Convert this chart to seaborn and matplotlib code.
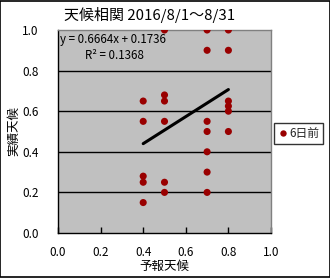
import matplotlib
matplotlib.use("Agg")
import matplotlib.pyplot as plt
import seaborn as sns
import numpy as np
import pandas as pd

# Data
forecast = [0.4, 0.4, 0.4, 0.4, 0.4,
            0.5, 0.5, 0.5, 0.5, 0.5, 0.5,
            0.7, 0.7, 0.7, 0.7, 0.7, 0.7, 0.7,
            0.8, 0.8, 0.8, 0.8, 0.8, 0.8]
actual = [0.65, 0.55, 0.28, 0.25, 0.15,
          1.0, 0.68, 0.65, 0.55, 0.25, 0.20,
          1.0, 0.9, 0.55, 0.50, 0.40, 0.30, 0.20,
          1.0, 0.9, 0.65, 0.625, 0.60, 0.50]
series_name = "6日前"
slope = 0.6664
intercept = 0.1736
r2 = 0.1368
title = "天候相関 2016/8/1～8/31"
xlabel = "予報天候"
ylabel = "実績天候"
ticks = [0.0, 0.2, 0.4, 0.6, 0.8, 1.0]

df = pd.DataFrame({"予報天候": forecast, "実績天候": actual, "系列": series_name})

sns.set_theme(style="white")
plt.rcParams["font.family"] = ["Noto Sans CJK JP", "DejaVu Sans"]

fig = plt.figure(figsize=(3.30, 2.78), dpi=100)
ax = fig.add_axes([58 / 330, 1 - 233 / 278, (271 - 58) / 330, (233 - 30) / 278])
ax.set_facecolor("#C0C0C0")

for yv in ticks[1:-1]:
    ax.axhline(yv, color="black", lw=1.0, zorder=1)

sns.scatterplot(data=df, x="予報天候", y="実績天候", hue="系列",
                palette=["#990000"], s=26, edgecolor="none", ax=ax, zorder=3)

xs = np.array([min(forecast), max(forecast)])
ax.plot(xs, slope * xs + intercept, color="black", lw=2.2, zorder=4)

ax.set_xlim(0, 1)
ax.set_ylim(0, 1)
ax.set_xticks(ticks)
ax.set_yticks(ticks)
ax.set_xticklabels([f"{t:.1f}" for t in ticks])
ax.set_yticklabels([f"{t:.1f}" for t in ticks])
ax.tick_params(axis="x", direction="in", length=4, width=1, color="black",
               pad=9, labelsize=8.5, bottom=True)
ax.tick_params(axis="y", length=0, pad=14, labelsize=8.5)
for lab in ax.get_xticklabels() + ax.get_yticklabels():
    lab.set_color("black")

ax.set_xlabel(xlabel, fontsize=9, labelpad=1, color="black")
ax.set_ylabel(ylabel, fontsize=9, labelpad=1, color="black")

for side in ["left", "bottom"]:
    ax.spines[side].set_color("black")
    ax.spines[side].set_linewidth(1)
for side in ["top", "right"]:
    ax.spines[side].set_color("#808080")
    ax.spines[side].set_linewidth(1)

ax.text(0.01, 0.955, f"y = {slope}x + {intercept}", transform=ax.transAxes,
        fontsize=8.3, va="center", ha="left", color="black")
ax.text(0.125, 0.875, f"R² = {r2}", transform=ax.transAxes,
        fontsize=8.3, va="center", ha="left", color="black")

fig.text(150 / 330, 1 - 15 / 278, title, fontsize=10.8, ha="center", va="center",
         color="black")

handles, labels = ax.get_legend_handles_labels()
leg = ax.legend(handles, labels, loc="center left",
                bbox_to_anchor=(274 / 330, 1 - 133.5 / 278),
                bbox_transform=fig.transFigure, frameon=True, fontsize=8.5,
                handletextpad=0.0, handlelength=1.0, borderpad=0.3,
                markerscale=0.9, fancybox=False, borderaxespad=0)
leg.get_frame().set_edgecolor("black")
leg.get_frame().set_linewidth(1)

fig.patches.append(plt.Rectangle((0.0015, 0.0018), 0.997, 0.9964, transform=fig.transFigure,
                                 fill=False, edgecolor="black", lw=1.2))

fig.savefig("out.png", dpi=100, facecolor="white")
